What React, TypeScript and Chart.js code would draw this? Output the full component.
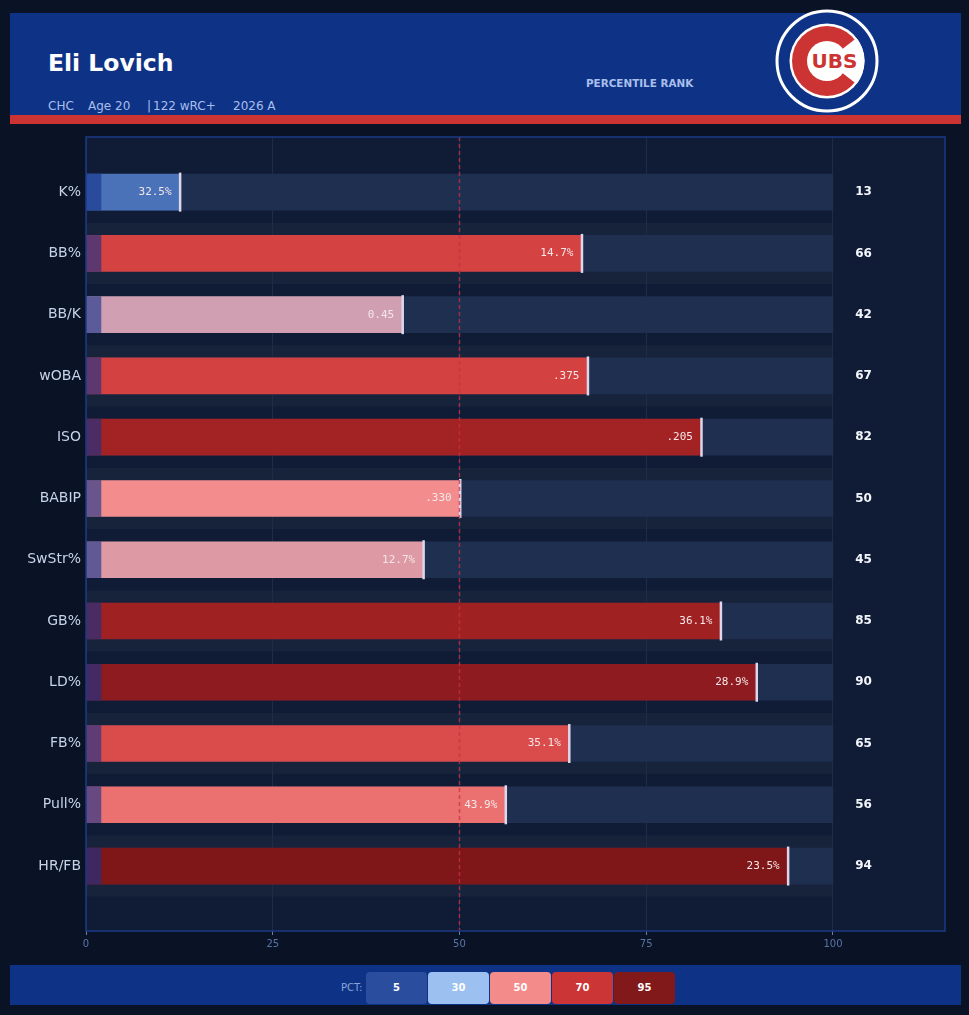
import React, { useEffect, useRef } from "react";
import { Chart, registerables } from "chart.js";

Chart.register(...registerables);

// ---- data ----
const metrics = ["K%", "BB%", "BB/K", "wOBA", "ISO", "BABIP", "SwStr%", "GB%", "LD%", "FB%", "Pull%", "HR/FB"];
// percentile rank as printed on the right
const percentiles = [13, 66, 42, 67, 82, 50, 45, 85, 90, 65, 56, 94];
// unrounded percentile
const percentileExact = [12.6, 66.4, 42.4, 67.2, 82.4, 50.1, 45.2, 85.0, 89.8, 64.7, 56.2, 94.0];
const rawValues = ["32.5%", "14.7%", "0.45", ".375", ".205", ".330", "12.7%", "36.1%", "28.9%", "35.1%", "43.9%", "23.5%"];
const barColors = [
  "#4a72b8", "#d44242", "#d0a0b2", "#d44141", "#a32324", "#f38d8d",
  "#dd9aa4", "#9f2122", "#8d1b1f", "#da4c4c", "#eb7171", "#7f1718",
];
const xTicks = [0, 25, 50, 75, 100];
const legendSteps = [5, 30, 50, 70, 95];
const legendColors = ["#2b4d9d", "#9cc1f1", "#f38b8b", "#cc3535", "#811819"];
const playerName = "Eli Lovich";
const subtitleParts = ["CHC", "Age 20", "|", "122 wRC+", "2026 A"];

const FONT = "'DejaVu Sans', sans-serif";

const decorPlugin = {
  id: "decor",
  beforeDraw(chart: any) {
    const { ctx, chartArea: a, scales } = chart;
    const x = scales.x;
    const y = scales.y;
    ctx.save();
    ctx.fillStyle = "#101b35";
    ctx.fillRect(a.left, a.top, a.right - a.left, a.bottom - a.top);
    ctx.fillStyle = "#17223b";
    const x0 = x.getPixelForValue(0);
    const x1 = x.getPixelForValue(100);
    metrics.forEach((_, i) => {
      if (i % 2 === 1) {
        const t = y.getPixelForValue(i - 0.5);
        const b = y.getPixelForValue(i + 0.5);
        ctx.fillRect(x0, t, x1 - x0, b - t);
      }
    });
    ctx.restore();
  },
  afterDatasetsDraw(chart: any) {
    const { ctx, chartArea: a, scales } = chart;
    const x = scales.x;
    const y = scales.y;
    ctx.save();
    // median dashed line
    const xm = x.getPixelForValue(50);
    ctx.strokeStyle = "rgba(200,48,70,0.75)";
    ctx.lineWidth = 1.5;
    ctx.setLineDash([4, 3]);
    ctx.beginPath();
    ctx.moveTo(xm, a.top);
    ctx.lineTo(xm, a.bottom);
    ctx.stroke();
    ctx.setLineDash([]);
    // value labels & percentile numbers
    ctx.textBaseline = "middle";
    metrics.forEach((_, i) => {
      const yc = y.getPixelForValue(i);
      ctx.font = "11px 'DejaVu Sans Mono', monospace";
      ctx.fillStyle = "#f4e6e8";
      ctx.textAlign = "right";
      ctx.fillText(rawValues[i], x.getPixelForValue(percentileExact[i]) - 8.5, yc);
      ctx.font = "bold 12px " + FONT;
      ctx.fillStyle = "#f2f5fb";
      ctx.textAlign = "center";
      ctx.fillText(String(percentiles[i]), x.getPixelForValue(104.1), yc);
    });
    // border
    ctx.strokeStyle = "#1b3a86";
    ctx.lineWidth = 1.5;
    ctx.strokeRect(a.left, a.top, a.right - a.left, a.bottom - a.top);
    ctx.restore();
  },
};

function PercentileChart() {
  const ref = useRef<HTMLCanvasElement | null>(null);
  useEffect(() => {
    if (!ref.current) return;
    Chart.defaults.font.family = FONT;
    const chart = new Chart(ref.current, {
      type: "bar",
      data: {
        datasets: [
          {
            type: "scatter",
            data: percentileExact.map((p, i) => ({ x: p, y: i })),
            pointStyle: "line",
            rotation: 90,
            radius: 19.5,
            hoverRadius: 19.5,
            borderWidth: 2.5,
            borderColor: "#ded6ea",
            backgroundColor: "#ded6ea",
            clip: false,
            order: 1,
          } as any,
          {
            data: metrics.map((_, i) => ({ x: [0, 2], y: i })),
            backgroundColor: "rgba(23,50,138,0.63)",
            barThickness: 36,
            grouped: false,
            order: 2,
          } as any,
          {
            data: percentileExact.map((p, i) => ({ x: [0, p], y: i })),
            backgroundColor: barColors,
            barThickness: 36,
            grouped: false,
            order: 3,
          } as any,
          {
            data: metrics.map((_, i) => ({ x: [0, 100], y: i })),
            backgroundColor: "#1e2f50",
            barThickness: 36,
            grouped: false,
            order: 4,
          } as any,
        ],
      },
      options: {
        indexAxis: "y",
        animation: false,
        responsive: false,
        events: [],
        layout: { autoPadding: false, padding: { top: 13, right: 24, left: 0, bottom: 0 } },
        plugins: { legend: { display: false }, tooltip: { enabled: false } },
        scales: {
          x: {
            type: "linear",
            min: 0,
            max: 115,
            offset: false,
            afterBuildTicks: (s: any) => {
              s.ticks = xTicks.map((v) => ({ value: v }));
            },
            afterFit: (s: any) => {
              s.height = 34;
              s.paddingLeft = 0;
              s.paddingRight = 0;
            },
            ticks: { color: "#5a74a6", font: { size: 10, family: FONT }, padding: 3, maxRotation: 0 },
            grid: { color: "#1e2c4c", lineWidth: 1, drawTicks: true, tickLength: 4, tickColor: "#6a7ea6" },
            border: { display: false },
          },
          y: {
            type: "linear",
            min: -0.9,
            max: 12.06,
            reverse: true,
            offset: false,
            afterBuildTicks: (s: any) => {
              s.ticks = metrics.map((_, i) => ({ value: i }));
            },
            afterFit: (s: any) => {
              s.width = 86;
              s.paddingTop = 0;
              s.paddingBottom = 0;
            },
            ticks: {
              autoSkip: false,
              color: "#c6d3ea",
              font: { size: 14, family: FONT },
              padding: 5,
              callback: (v: any) => metrics[v as number],
            },
            grid: { display: false, drawTicks: false },
            border: { display: false },
          },
        },
      } as any,
      plugins: [decorPlugin],
    });
    return () => chart.destroy();
  }, []);
  return (
    <canvas
      ref={ref}
      width={969}
      height={841}
      style={{ position: "absolute", left: 0, top: 124, width: 969, height: 841 }}
    />
  );
}

function CubsLogo() {
  return (
    <svg width={106} height={106} viewBox="0 0 106 106" style={{ position: "absolute", left: 774, top: 8 }}>
      <circle cx={53} cy={53} r={50} fill="#0e3386" stroke="#ffffff" strokeWidth={3} />
      <circle cx={53} cy={53} r={37.5} fill="#ffffff" />
      <circle cx={53} cy={53} r={35} fill="#cc3433" />
      <circle cx={53} cy={53} r={20} fill="#ffffff" />
      <path d="M53 53 L82.55 29.9 A37.5 37.5 0 0 1 82.55 76.1 Z" fill="#ffffff" />
      <text
        x={60.5}
        y={60}
        textAnchor="middle"
        fontFamily={FONT}
        fontWeight="bold"
        fontSize={20}
        fill="#cc3433"
        stroke="#ffffff"
        strokeWidth={3}
        style={{ paintOrder: "stroke" } as any}
      >
        UBS
      </text>
    </svg>
  );
}

export default function App() {
  const subLefts = [48, 88, 147, 153, 233];
  return (
    <div
      style={{
        position: "absolute",
        left: 0,
        top: 0,
        width: 969,
        height: 1015,
        background: "#0a1325",
        overflow: "hidden",
        fontFamily: FONT,
      }}
    >
      {/* header */}
      <div style={{ position: "absolute", left: 10, top: 13, width: 951, height: 102, background: "#0e3386" }} />
      <div style={{ position: "absolute", left: 10, top: 115, width: 951, height: 9, background: "#cc3433" }} />
      <div
        style={{
          position: "absolute",
          left: 48,
          top: 52,
          fontSize: 23.5,
          lineHeight: "23px",
          fontWeight: "bold",
          color: "#ffffff",
          whiteSpace: "nowrap",
        }}
      >
        {playerName}
      </div>
      {subtitleParts.map((t, i) => (
        <div
          key={i}
          style={{
            position: "absolute",
            left: subLefts[i],
            top: 100,
            fontSize: 12,
            lineHeight: "12px",
            color: "#a9bfeb",
            whiteSpace: "nowrap",
          }}
        >
          {t}
        </div>
      ))}
      <div
        style={{
          position: "absolute",
          left: 586,
          top: 77,
          fontSize: 10.4,
          lineHeight: "12px",
          fontWeight: "bold",
          color: "#a9bfeb",
          whiteSpace: "nowrap",
        }}
      >
        PERCENTILE RANK
      </div>
      <CubsLogo />

      <PercentileChart />

      {/* footer legend */}
      <div style={{ position: "absolute", left: 10, top: 965, width: 951, height: 40, background: "#0e3386" }} />
      <div
        style={{
          position: "absolute",
          left: 341,
          top: 982,
          fontSize: 10,
          lineHeight: "12px",
          color: "#8aa5d8",
        }}
      >
        PCT:
      </div>
      {legendSteps.map((s, i) => (
        <div
          key={s}
          style={{
            position: "absolute",
            left: 366 + i * 62,
            top: 972,
            width: 61,
            height: 32,
            borderRadius: 4,
            background: legendColors[i],
            color: "#ffffff",
            fontSize: 10,
            fontWeight: "bold",
            lineHeight: "32px",
            textAlign: "center",
          }}
        >
          {s}
        </div>
      ))}
    </div>
  );
}
